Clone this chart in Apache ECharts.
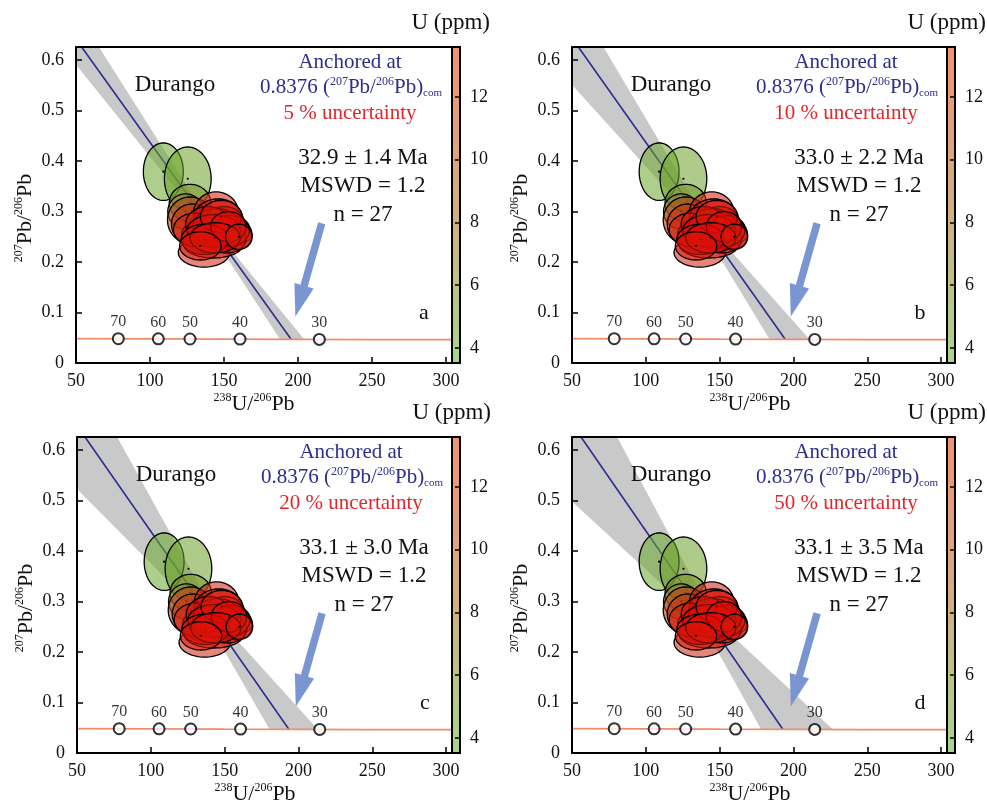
<!DOCTYPE html>
<html><head><meta charset="utf-8">
<script src="https://cdn.jsdelivr.net/npm/echarts@6/dist/echarts.min.js"></script>
<style>html,body{margin:0;padding:0;background:#fff}#c{width:987px;height:802px}</style>
</head><body><div id="c"></div>
<script>
const FONT = "'Liberation Serif','Times New Roman',serif";

// ---------- data ----------
const panelLetters = ['a', 'b', 'c', 'd'];
const ageTexts = ['32.9 ± 1.4 Ma', '33.0 ± 2.2 Ma', '33.1 ± 3.0 Ma', '33.1 ± 3.5 Ma'];
const uncertaintyTexts = ['5 % uncertainty', '10 % uncertainty', '20 % uncertainty', '50 % uncertainty'];
const mswdText = 'MSWD = 1.2';
const nText = 'n = 27';
const sampleName = 'Durango';
const anchorValue = '0.8376';

const xTicks = [50, 100, 150, 200, 250, 300];
const yTicks = [0, 0.1, 0.2, 0.3, 0.4, 0.5, 0.6];
const uTicks = [4, 6, 8, 10, 12];
const xRange = [50, 304];
const yRange = [0, 0.626];
const uRange = [3.52, 13.59];

// error ellipses (238U/206Pb, 207Pb/206Pb, half-axes, U ppm)
const ellX  = [109.0, 125.5, 127.0, 124.0, 127.0, 128.5, 144.6, 136.5, 146.0, 141.0, 147.8, 142.8, 149.5, 158.1, 130.4, 150.0, 145.0, 152.0, 139.0, 155.0, 143.0, 148.0, 137.0, 153.0, 144.0, 160.0, 134.0];
const ellY  = [0.379, 0.365, 0.317, 0.300, 0.283, 0.275, 0.298, 0.219, 0.285, 0.254, 0.255, 0.236, 0.264, 0.254, 0.264, 0.275, 0.270, 0.245, 0.275, 0.262, 0.262, 0.290, 0.245, 0.270, 0.248, 0.250, 0.232];
const ellSX = [13.5, 15.8, 14.0, 12.0, 15.2, 14.0, 15.1, 17.4, 16.7, 19.6, 20.7, 20.3, 18.0, 10.8, 14.6, 14.0, 16.0, 13.0, 15.0, 12.0, 18.0, 14.0, 16.0, 12.0, 17.0, 9.0, 14.0];
const ellSY = [0.057, 0.063, 0.037, 0.035, 0.046, 0.040, 0.041, 0.029, 0.040, 0.036, 0.028, 0.028, 0.033, 0.030, 0.033, 0.035, 0.036, 0.027, 0.035, 0.030, 0.032, 0.032, 0.030, 0.030, 0.030, 0.025, 0.028];
const ellU  = [4.3, 4.8, 5.5, 6.5, 10.6, 11.2, 12.3, 12.0, 13.0, 13.2, 12.8, 13.0, 13.4, 12.6, 12.2, 13.1, 12.9, 13.3, 12.7, 13.0, 13.5, 12.4, 12.9, 13.2, 13.1, 12.3, 12.6];

// Tera-Wasserburg concordia and age marks
const concX = [50, 100, 150, 200, 250, 304];
const concY = [0.0484, 0.0478, 0.0473, 0.0469, 0.0465, 0.0462];
const ageMa = [70, 60, 50, 40, 30];
const ageX = [78.6, 105.6, 127.0, 160.8, 214.4];
const ageY = [0.0481, 0.0478, 0.0476, 0.0473, 0.0468];

// anchored discordia per panel
const discX = [[53.8, 195.3], [54.3, 194.4], [55.4, 193.5], [56.1, 192.8]];
const discY = [[0.626, 0.0470], [0.626, 0.0470], [0.626, 0.0470], [0.626, 0.0470]];

// uncertainty envelope per panel (polygon vertices)
const bandX = [
  [50, 65.5, 143.5, 204.1, 187.8, 139.5, 50],
  [50, 71.3, 144.5, 210.8, 183.8, 138.5, 50],
  [50, 77.2, 145.5, 213.0, 180.4, 137.5, 50],
  [50, 80.6, 146.5, 226.6, 178.1, 136.5, 50]
];
const bandY = [
  [0.626, 0.626, 0.265, 0.047, 0.047, 0.265, 0.591],
  [0.626, 0.626, 0.265, 0.047, 0.047, 0.265, 0.551],
  [0.626, 0.626, 0.265, 0.047, 0.047, 0.265, 0.523],
  [0.626, 0.626, 0.265, 0.047, 0.047, 0.265, 0.498]
];

// arrow pointing at the lower intercept
const arrowTail = [216.0, 0.277];
const arrowTip = [198.2, 0.092];

// ---------- layout / style ----------
const origins = [[76, 47], [572, 47], [77, 437], [572, 437]];
const widths = [376, 375, 375, 375];
const H = 316, CBW = 8;
const G0 = [92, 184, 46], R0 = [232, 4, 6];
const BLUE = '#2c2e8e', RED = '#e3262a', INK = '#111';

function uColor(u, a) {
  const t = Math.max(0, Math.min(1, (u - uRange[0]) / (uRange[1] - uRange[0])));
  const c = G0.map((v, i) => Math.round(v + (R0[i] - v) * t));
  return `rgba(${c[0]},${c[1]},${c[2]},${a})`;
}
function barColor(u) {
  const t = Math.max(0, Math.min(1, (u - uRange[0]) / (uRange[1] - uRange[0])));
  const lo = [166, 214, 140], hi = [243, 146, 112];
  const c = lo.map((v, i) => Math.round(v + (hi[i] - v) * t));
  return `rgb(${c[0]},${c[1]},${c[2]})`;
}

const grids = [], xAxes = [], yAxes = [], series = [], graphics = [];
const axisLineStyle = { show: true, onZero: false, lineStyle: { color: '#000', width: 2 } };
const lblStyle = { fontSize: 18, fontFamily: FONT, color: INK };

const ellData = ellX.map((x, i) => [x, ellY[i], ellSX[i], ellSY[i], ellU[i]]);

for (let p = 0; p < 4; p++) {
  const [ox, oy] = origins[p];
  const W = widths[p];
  grids.push({ left: ox, top: oy, width: W, height: H, show: false });
  grids.push({ left: ox + W, top: oy, width: CBW, height: H, show: false });
  const gPlot = 2 * p, gBar = 2 * p + 1;
  const xi = xAxes.length, yi = yAxes.length;
  xAxes.push({ gridIndex: gPlot, type: 'value', min: xRange[0], max: xRange[1], z: 10,
    axisLine: axisLineStyle, splitLine: { show: false },
    axisTick: { show: true, inside: true, length: 6, lineStyle: { color: '#000', width: 1.5 }, customValues: xTicks },
    axisLabel: Object.assign({ customValues: xTicks, margin: 9 }, lblStyle) });
  yAxes.push({ gridIndex: gPlot, type: 'value', min: yRange[0], max: yRange[1], z: 10,
    axisLine: axisLineStyle, splitLine: { show: false },
    axisTick: { show: true, inside: true, length: 6, lineStyle: { color: '#000', width: 1.5 }, customValues: yTicks },
    axisLabel: Object.assign({ customValues: yTicks, margin: 12, formatter: v => v === 0 ? '0' : v.toFixed(1) }, lblStyle) });
  xAxes.push({ gridIndex: gPlot, type: 'value', position: 'top', min: xRange[0], max: xRange[1], z: 10,
    axisLine: axisLineStyle, axisTick: { show: false }, axisLabel: { show: false }, splitLine: { show: false } });
  yAxes.push({ gridIndex: gPlot, type: 'value', position: 'right', min: yRange[0], max: yRange[1], z: 10,
    axisLine: axisLineStyle, axisTick: { show: false }, axisLabel: { show: false }, splitLine: { show: false } });
  xAxes.push({ gridIndex: gBar, type: 'value', min: 0, max: 1, show: false });
  yAxes.push({ gridIndex: gBar, type: 'value', position: 'right', min: uRange[0], max: uRange[1], z: 10,
    axisLine: axisLineStyle, splitLine: { show: false },
    axisTick: { show: true, inside: true, length: 5, lineStyle: { color: '#000', width: 1.5 }, customValues: uTicks },
    axisLabel: Object.assign({ customValues: uTicks, margin: 10 }, lblStyle) });

  series.push({ type: 'custom', xAxisIndex: xi, yAxisIndex: yi, z: 1, clip: true, silent: true,
    data: [[p]],
    renderItem: (params, api) => ({
      type: 'polygon',
      shape: { points: bandX[p].map((bx, k) => api.coord([bx, bandY[p][k]])) },
      style: { fill: '#c9c9c9', stroke: null }
    })
  });
  series.push({ type: 'line', xAxisIndex: xi, yAxisIndex: yi, z: 2, symbol: 'none', silent: true,
    data: discX[p].map((x, k) => [x, discY[p][k]]),
    lineStyle: { color: BLUE, width: 1.6 } });
  series.push({ type: 'line', xAxisIndex: xi, yAxisIndex: yi, z: 3, symbol: 'none', silent: true,
    data: concX.map((x, k) => [x, concY[k]]),
    lineStyle: { color: '#f08c6c', width: 1.8 } });
  series.push({ type: 'custom', xAxisIndex: xi, yAxisIndex: yi, z: 4, silent: true,
    data: ellData, encode: { x: 0, y: 1 },
    renderItem: (params, api) => {
      const x = api.value(0), y = api.value(1), sx = api.value(2), sy = api.value(3), u = api.value(4);
      const pts = [];
      for (let k = 0; k < 72; k++) {
        const t = 2 * Math.PI * k / 72;
        pts.push(api.coord([x + sx * Math.cos(t), y + sy * Math.sin(t)]));
      }
      const c = api.coord([x, y]);
      return { type: 'group', children: [
        { type: 'polygon', shape: { points: pts }, style: { fill: uColor(u, 0.55), stroke: '#000', lineWidth: 1.3 } },
        { type: 'circle', shape: { cx: c[0], cy: c[1], r: 1.1 }, style: { fill: '#000' } }
      ] };
    }
  });
  series.push({ type: 'scatter', xAxisIndex: xi, yAxisIndex: yi, z: 5, silent: true,
    data: ageX.map((x, k) => [x, ageY[k], ageMa[k]]),
    symbol: 'circle', symbolSize: 11,
    itemStyle: { color: '#fff', borderColor: '#000', borderWidth: 2 },
    label: { show: true, position: 'top', distance: 2, formatter: d => String(d.data[2]),
      fontSize: 16, fontFamily: FONT, color: '#000' } });
  series.push({ type: 'custom', xAxisIndex: xi, yAxisIndex: yi, z: 6, silent: true,
    data: [[arrowTail[0], arrowTail[1], arrowTip[0], arrowTip[1]]],
    renderItem: (params, api) => {
      const a = api.coord([api.value(0), api.value(1)]);
      const b = api.coord([api.value(2), api.value(3)]);
      const dx = b[0] - a[0], dy = b[1] - a[1], L = Math.hypot(dx, dy);
      const ux = dx / L, uy = dy / L, px = -uy, py = ux;
      const hl = 32, hw = 10;
      const base = [b[0] - ux * hl, b[1] - uy * hl];
      return { type: 'group', children: [
        { type: 'line', shape: { x1: a[0], y1: a[1], x2: base[0] + ux * 2, y2: base[1] + uy * 2 },
          style: { stroke: '#7a96d2', lineWidth: 7.5 } },
        { type: 'polygon', shape: { points: [b, [base[0] + px * hw, base[1] + py * hw], [base[0] - px * hw, base[1] - py * hw]] },
          style: { fill: '#7a96d2' } }
      ] };
    }
  });
  const cbX = xAxes.length - 1, cbY = yAxes.length - 1;
  series.push({ type: 'custom', xAxisIndex: cbX, yAxisIndex: cbY, z: 2, silent: true,
    data: [[0, uRange[1]]],
    renderItem: (params, api) => {
      const t = api.coord([0, uRange[1]]), b = api.coord([1, uRange[0]]);
      return { type: 'rect', shape: { x: t[0], y: t[1], width: b[0] - t[0], height: b[1] - t[1] },
        style: { fill: { type: 'linear', x: 0, y: 0, x2: 0, y2: 1,
          colorStops: [{ offset: 0, color: barColor(uRange[1]) }, { offset: 0.55, color: barColor(9.0) }, { offset: 1, color: barColor(uRange[0]) }] },
          stroke: '#000', lineWidth: 2 } };
    }
  });

  const txt = (text, x, y, size, fill, align, extra) => {
    const st = { text: text, x: 0, y: 0, fill: fill, fontSize: size, fontFamily: FONT,
      align: align, textAlign: align, verticalAlign: 'middle', textVerticalAlign: 'middle' };
    return Object.assign({ type: 'text', x: x, y: y, z: 100, silent: true, style: st }, extra || {});
  };
  const richTxt = (text, x, y, size, fill, align, rot) => {
    const el = txt(text, x, y, size, fill, align, rot ? { rotation: rot } : null);
    el.style.rich = {
      m: { fontSize: size, fontFamily: FONT, fill: fill, lineHeight: size + 2 },
      s: { fontSize: Math.round(size * 0.55), fontFamily: FONT, fill: fill, verticalAlign: 'top', lineHeight: size + 2 },
      b: { fontSize: Math.round(size * 0.5), fontFamily: FONT, fill: fill, verticalAlign: 'bottom', lineHeight: size + 2 }
    };
    return el;
  };
  graphics.push(txt(sampleName, ox + 99, oy + 38, 23, INK, 'center'));
  graphics.push(txt('Anchored at', ox + 274, oy + 15, 21, BLUE, 'center'));
  graphics.push(richTxt('{m|' + anchorValue + ' (}{s|207}{m|Pb/}{s|206}{m|Pb)}{b|com}', ox + 275, oy + 40, 21, BLUE, 'center'));
  graphics.push(txt(uncertaintyTexts[p], ox + 274, oy + 66, 21, RED, 'center'));
  graphics.push(txt(ageTexts[p], ox + 287, oy + 111, 23, INK, 'center'));
  graphics.push(txt(mswdText, ox + 287, oy + 139, 23, INK, 'center'));
  graphics.push(txt(nText, ox + 287, oy + 168, 23, INK, 'center'));
  graphics.push(txt(panelLetters[p], ox + 348, oy + 266, 22, INK, 'center'));
  graphics.push(txt('U (ppm)', ox + 414, oy - 24, 23, INK, 'right'));
  graphics.push(richTxt('{s|238}{m|U/}{s|206}{m|Pb}', ox + 178, oy + H + 41, 22, INK, 'center'));
  graphics.push(richTxt('{s|207}{m|Pb/}{s|206}{m|Pb}', ox - 51, oy + 171, 22, INK, 'center', Math.PI / 2));
}

const chart = echarts.init(document.getElementById('c'), null, { renderer: 'canvas' });
chart.setOption({
  backgroundColor: '#fff',
  animation: false,
  grid: grids,
  xAxis: xAxes,
  yAxis: yAxes,
  series: series,
  graphic: { elements: graphics }
});
</script>
</body></html>
